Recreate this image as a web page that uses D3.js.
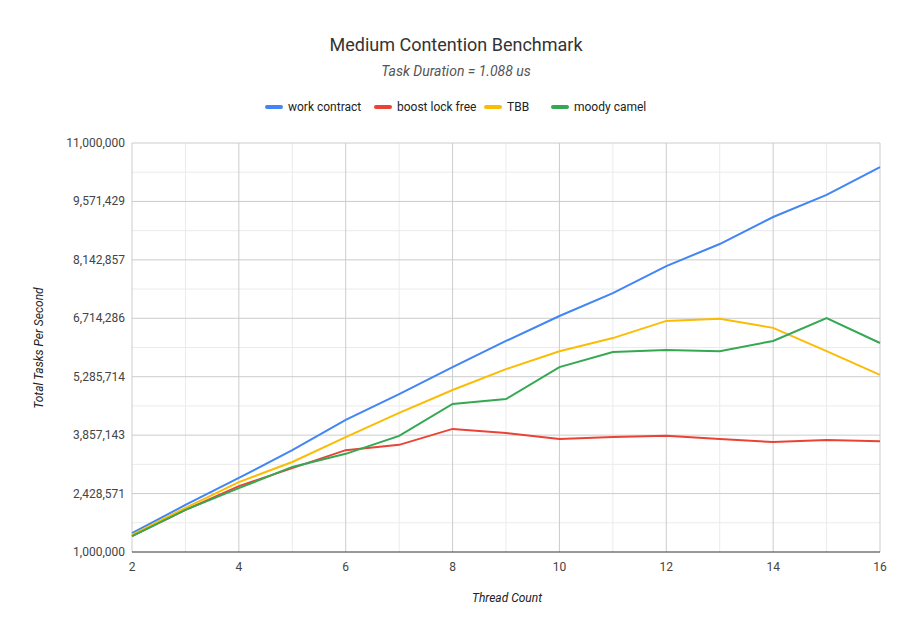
<!DOCTYPE html>
<html><head><meta charset="utf-8">
<script src="https://cdn.jsdelivr.net/npm/d3@7"></script>
<style>body{margin:0;background:#fff;font-family:Roboto,Arial,sans-serif}</style>
</head><body><svg id="chart" width="912" height="637"></svg>
<script>
const threads = [2, 3, 4, 5, 6, 7, 8, 9, 10, 11, 12, 13, 14, 15, 16];
const workContract = [1.46, 2.15, 2.81, 3.49, 4.23, 4.86, 5.52, 6.16, 6.77, 7.33, 7.99, 8.53, 9.19, 9.73, 10.41];
const boostLockFree = [1.39, 2.03, 2.61, 3.05, 3.49, 3.62, 4.01, 3.91, 3.76, 3.81, 3.84, 3.76, 3.69, 3.74, 3.71];
const tbb = [1.42, 2.08, 2.71, 3.2, 3.81, 4.4, 4.96, 5.47, 5.91, 6.23, 6.65, 6.7, 6.48, 5.91, 5.33];
const moodyCamel = [1.39, 2.03, 2.56, 3.08, 3.4, 3.84, 4.62, 4.74, 5.52, 5.89, 5.94, 5.91, 6.16, 6.72, 6.11];
const series = [
  {name: 'work contract', values: workContract, color: '#4285f4'},
  {name: 'boost lock free', values: boostLockFree, color: '#ea4335'},
  {name: 'TBB', values: tbb, color: '#fbbc04'},
  {name: 'moody camel', values: moodyCamel, color: '#34a853'},
];
const yTicks = d3.range(8).map((i) => 1e6 + i * 1e7 / 7);
const xTicks = [2, 4, 6, 8, 10, 12, 14, 16];

const svg = d3.select('#chart');
const x = d3.scaleLinear().domain([2, 16]).range([132, 880]);
const y = d3.scaleLinear().domain([1e6, 11e6]).range([552, 143]);

// minor grid
const g = svg.append('g');
g.selectAll('.mx').data(d3.range(3, 16, 2)).join('line')
    .attr('x1', (d) => x(d)).attr('x2', (d) => x(d)).attr('y1', 143).attr('y2', 552)
    .attr('stroke', '#ebebeb');
g.selectAll('.my').data(yTicks.slice(0, -1).map((d) => d + 1e7 / 14)).join('line')
    .attr('x1', 132).attr('x2', 880).attr('y1', (d) => y(d)).attr('y2', (d) => y(d))
    .attr('stroke', '#ebebeb');
// major grid
g.selectAll('.Mx').data(xTicks).join('line')
    .attr('x1', (d) => x(d)).attr('x2', (d) => x(d)).attr('y1', 143).attr('y2', 552)
    .attr('stroke', '#cccccc');
g.selectAll('.My').data(yTicks).join('line')
    .attr('x1', 132).attr('x2', 880).attr('y1', (d) => y(d)).attr('y2', (d) => y(d))
    .attr('stroke', (d, i) => i === 0 ? '#333' : '#cccccc');

const fmt = d3.format(',.0f');
svg.append('g').selectAll('text').data(yTicks).join('text')
    .attr('x', 125).attr('y', (d) => y(d) + 4).attr('text-anchor', 'end')
    .attr('font-size', 12).attr('fill', '#444').text((d) => fmt(d));
svg.append('g').selectAll('text').data(xTicks).join('text')
    .attr('x', (d) => x(d)).attr('y', 571).attr('text-anchor', 'middle')
    .attr('font-size', 12).attr('fill', '#444').text((d) => d);

const line = d3.line().x((d, i) => x(threads[i])).y((d) => y(d * 1e6));
svg.append('g').selectAll('path').data(series).join('path')
    .attr('d', (s) => line(s.values)).attr('fill', 'none')
    .attr('stroke', (s) => s.color).attr('stroke-width', 2);

svg.append('text').attr('x', 456).attr('y', 51).attr('text-anchor', 'middle')
    .attr('font-size', 18).attr('fill', '#333').text('Medium Contention Benchmark');
svg.append('text').attr('x', 456).attr('y', 76).attr('text-anchor', 'middle')
    .attr('font-size', 14).attr('font-style', 'italic').attr('fill', '#555').text('Task Duration = 1.088 us');
svg.append('text').attr('x', 507).attr('y', 602).attr('text-anchor', 'middle')
    .attr('font-size', 12).attr('font-style', 'italic').attr('fill', '#222').text('Thread Count');
svg.append('text').attr('transform', 'translate(43,348) rotate(-90)').attr('text-anchor', 'middle')
    .attr('font-size', 12).attr('font-style', 'italic').attr('fill', '#222').text('Total Tasks Per Second');

const legendX = [267, 376, 486, 553];
const lg = svg.append('g').selectAll('g').data(series).join('g')
    .attr('transform', (d, i) => `translate(${legendX[i]},107)`);
lg.append('line').attr('x1', 0).attr('x2', 14).attr('stroke', (d) => d.color).attr('stroke-width', 4).attr('stroke-linecap', 'round');
lg.append('text').attr('x', 21).attr('y', 4).attr('font-size', 12).attr('fill', '#222').text((d) => d.name);
</script></body></html>
